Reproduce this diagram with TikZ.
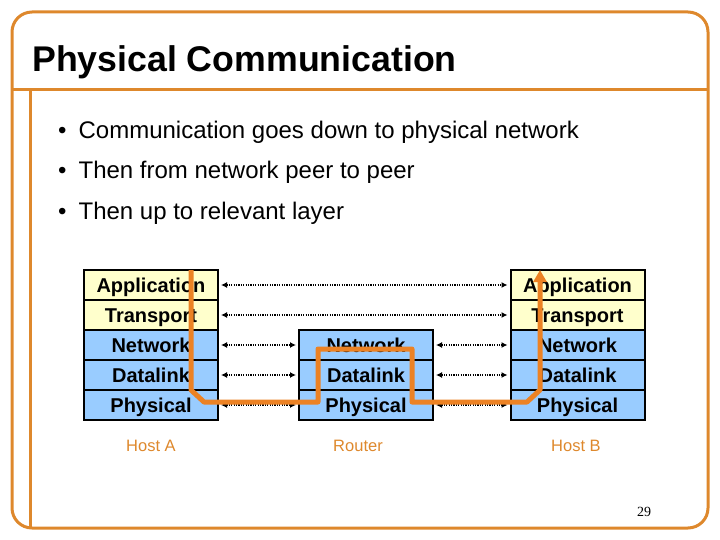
\documentclass[tikz,border=0pt]{standalone}
\usepackage{fontspec}
\setmainfont{Liberation Sans}
\newfontfamily\serifnum{Liberation Serif}
\usetikzlibrary{arrows.meta}
\definecolor{frameorange}{RGB}{222,136,44}
\definecolor{pathorange}{RGB}{236,130,36}
\definecolor{layeryellow}{RGB}{255,255,204}
\definecolor{layerblue}{RGB}{153,204,255}
\tikzset{
  layer/.style={draw=black, line width=2pt, minimum width=134pt, minimum height=30pt,
    inner sep=0pt, text height=14.5pt, text depth=0pt,
    font=\fontsize{20}{20}\selectfont\bfseries},
  upper/.style={layer, fill=layeryellow},
  lower/.style={layer, fill=layerblue},
  peer/.style={line width=2pt, dash pattern=on 1.2pt off 1.2pt,
    {Latex[length=6pt,width=6pt]}-{Latex[length=6pt,width=6pt]},
    shorten <=2pt, shorten >=2pt},
  hostlabel/.style={text=frameorange, font=\fontsize{16.5}{16.5}\selectfont, anchor=base},
  bullettext/.style={anchor=base west, font=\fontsize{24}{24}\selectfont},
  route/.style={draw=pathorange, line width=5pt, line join=round}
}
\begin{document}
\begin{tikzpicture}[x=1pt,y=-1pt]
\useasboundingbox (0,0) rectangle (720,540);
% frame
\draw[frameorange, line width=3pt, rounded corners=20pt] (12,12) rectangle (708,528);
\draw[frameorange, line width=3pt] (12,90) -- (708,90);
\draw[frameorange, line width=3pt] (30,90) -- (30,528);
% title
\node[anchor=base west, inner sep=0pt, font=\fontsize{35.7}{36}\selectfont\bfseries] (title) at (32,72) {Physical Communication};
% bullets
\node[bullettext, inner sep=0pt] (b1) at (58,139) {\textbullet\hspace{12pt}Communication goes down to physical network};
\node[bullettext, inner sep=0pt] (b2) at (58,179) {\textbullet\hspace{12pt}Then from network peer to peer};
\node[bullettext, inner sep=0pt] (b3) at (58,219) {\textbullet\hspace{12pt}Then up to relevant layer};
% Host A
\node[upper] (aApp) at (151,285) {Application};
\node[upper] (aTra) at (151,315) {Transport};
\node[lower] (aNet) at (151,345) {Network};
\node[lower] (aDat) at (151,375) {Datalink};
\node[lower] (aPhy) at (151,405) {Physical};
% Router
\node[lower] (rNet) at (366,345) {Network};
\node[lower] (rDat) at (366,375) {Datalink};
\node[lower] (rPhy) at (366,405) {Physical};
% Host B
\node[upper] (bApp) at (577.5,285) {Application};
\node[upper] (bTra) at (577.5,315) {Transport};
\node[lower] (bNet) at (577.5,345) {Network};
\node[lower] (bDat) at (577.5,375) {Datalink};
\node[lower] (bPhy) at (577.5,405) {Physical};
% peer arrows
\draw[peer] (aApp.east) -- (bApp.west);
\draw[peer] (aTra.east) -- (bTra.west);
\draw[peer] (aNet.east) -- (rNet.west);
\draw[peer] (aDat.east) -- (rDat.west);
\draw[peer] (aPhy.east) -- (rPhy.west);
\draw[peer] (rNet.east) -- (bNet.west);
\draw[peer] (rDat.east) -- (bDat.west);
\draw[peer] (rPhy.east) -- (bPhy.west);
% labels
\node[hostlabel] (la) at (151,451) {Host A};
\node[hostlabel] (lr) at (358,451) {Router};
\node[hostlabel] (lb) at (576,451) {Host B};
\node[anchor=base, font=\serifnum\fontsize{14}{14}\selectfont] (pg) at (644,516) {29};
% route
\coordinate (r0) at (191,270);
\coordinate (r1) at (191,390);
\coordinate (r2) at (204,402);
\coordinate (r3) at (318,402);
\coordinate (r4) at (318,349);
\coordinate (r5) at (412,349);
\coordinate (r6) at (412,402);
\coordinate (r7) at (527,402);
\coordinate (r8) at (540,390);
\coordinate (r9) at (540,270);
\draw[route, -{Triangle[width=13pt,length=12pt]}] (r0) -- (r1) -- (r2) -- (r3) -- (r4) -- (r5) -- (r6) -- (r7) -- (r8) -- (r9);
\end{tikzpicture}
\end{document}
